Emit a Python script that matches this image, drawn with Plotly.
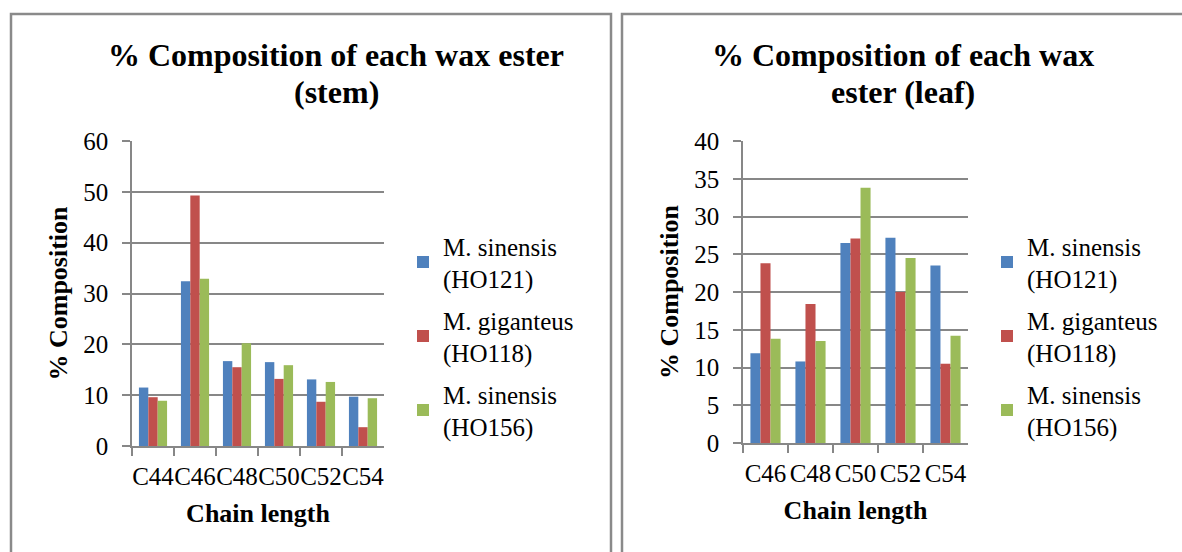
import plotly.graph_objects as go

W, H = 1182, 552

series_names = ["M. sinensis<br>(HO121)", "M. giganteus<br>(HO118)", "M. sinensis<br>(HO156)"]
colors = ["#4F81BD", "#C0504D", "#9BBB59"]

stem_categories = ["C44", "C46", "C48", "C50", "C52", "C54"]
stem_ho121 = [11.5, 32.4, 16.7, 16.5, 13.1, 9.7]
stem_ho118 = [9.6, 49.3, 15.5, 13.2, 8.7, 3.7]
stem_ho156 = [8.9, 32.9, 20.2, 15.9, 12.6, 9.4]

leaf_categories = ["C46", "C48", "C50", "C52", "C54"]
leaf_ho121 = [11.9, 10.8, 26.5, 27.2, 23.5]
leaf_ho118 = [23.8, 18.4, 27.1, 20.0, 10.5]
leaf_ho156 = [13.8, 13.5, 33.8, 24.5, 14.2]

stem_ticks = [0, 10, 20, 30, 40, 50, 60]
leaf_ticks = [0, 5, 10, 15, 20, 25, 30, 35, 40]

stem_title = ["% Composition of each wax ester", "(stem)"]
leaf_title = ["% Composition of each wax", "ester (leaf)"]

FONT = "Liberation Serif, Times New Roman, serif"
GRID = "#878787"

fig = go.Figure()

for i, vals in enumerate([stem_ho121, stem_ho118, stem_ho156]):
    fig.add_trace(go.Bar(x=stem_categories, y=vals, name=series_names[i],
                         marker=dict(color=colors[i], line=dict(width=0)),
                         xaxis="x", yaxis="y", legend="legend", legendgroup="s%d" % i))
for i, vals in enumerate([leaf_ho121, leaf_ho118, leaf_ho156]):
    fig.add_trace(go.Bar(x=leaf_categories, y=vals, name=series_names[i],
                         marker=dict(color=colors[i], line=dict(width=0)),
                         xaxis="x2", yaxis="y2", legend="legend2", legendgroup="l%d" % i))

def px_x(p):
    return p / W

def px_y(p):
    return 1 - p / H

axis_common = dict(showline=True, linecolor=GRID, linewidth=1.5, automargin=False,
                   ticks="outside", tickcolor=GRID, ticklen=8, tickwidth=1.5,
                   tickfont=dict(family=FONT, size=25, color="#000"))
xcommon = dict(tickson="boundaries", tickangle=0, ticklabelstandoff=7,
               title=dict(text="<b>Chain length</b>", font=dict(family=FONT, size=26), standoff=15))
ycommon = dict(showgrid=True, gridcolor=GRID, gridwidth=1.5, ticklabelstandoff=9, zeroline=False,
               title=dict(text="<b>% Composition</b>", font=dict(family=FONT, size=26), standoff=8))
legend_common = dict(xanchor="left", yanchor="top",
                     font=dict(family=FONT, size=25, color="#000"), tracegroupgap=6,
                     bgcolor="rgba(0,0,0,0)", itemwidth=30)

fig.update_layout(
    width=W, height=H, margin=dict(l=0, r=0, t=0, b=0, pad=0, autoexpand=False),
    paper_bgcolor="white", plot_bgcolor="white",
    barmode="group", bargap=0.33, bargroupgap=0,
    font=dict(family=FONT, color="#000"),
    xaxis=dict(domain=[px_x(132), px_x(384)], anchor="y", **xcommon, **axis_common),
    yaxis=dict(domain=[px_y(446), px_y(141)], anchor="x", range=[0, 60], tickvals=stem_ticks,
               **ycommon, **axis_common),
    xaxis2=dict(domain=[px_x(743), px_x(968)], anchor="y2", **xcommon, **axis_common),
    yaxis2=dict(domain=[px_y(443), px_y(141)], anchor="x2", range=[0, 40], tickvals=leaf_ticks,
                **ycommon, **axis_common),
    legend=dict(x=px_x(403), y=px_y(223), **legend_common),
    legend2=dict(x=px_x(987), y=px_y(223), **legend_common),
    showlegend=True,
)

# titles (two lines each, placed separately for Excel-like line spacing)
for title, cx in [(stem_title, 336), (leaf_title, 903)]:
    for j, line in enumerate(title):
        fig.add_annotation(text="<b>%s</b>" % line, x=px_x(cx), y=px_y(55 + 37 * j),
                           xref="paper", yref="paper", xanchor="center", yanchor="middle",
                           showarrow=False, font=dict(family=FONT, size=32, color="#000"))

# chart-area borders
fig.add_shape(type="rect", xref="paper", yref="paper", x0=px_x(11), x1=px_x(611), y0=px_y(560), y1=px_y(14),
              line=dict(color="#8a8a8a", width=2.5))
fig.add_shape(type="rect", xref="paper", yref="paper", x0=px_x(622), x1=px_x(1190), y0=px_y(560), y1=px_y(14),
              line=dict(color="#8a8a8a", width=2.5))

fig.write_html("out.html", config={"displayModeBar": False},
               post_script="document.body.style.margin='0';document.body.style.overflow='hidden';")
